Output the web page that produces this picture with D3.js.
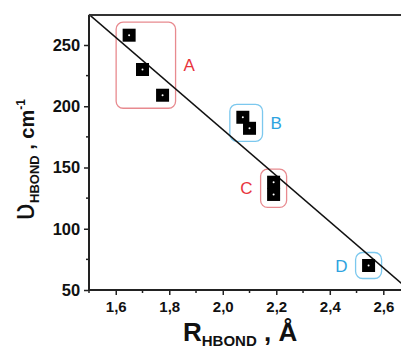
<!DOCTYPE html>
<html>
<head>
<meta charset="utf-8">
<script src="https://cdn.jsdelivr.net/npm/d3@7"></script>
<style>
  body { margin: 0; background: #fff; }
  svg { display: block; font-family: "Liberation Sans", Arial, sans-serif; }
</style>
</head>
<body>
<div id="chart"></div>
<script>
// bond length (Å) and frequency (cm-1)
const rValues = [1.65, 1.70, 1.775, 2.075, 2.10, 2.19, 2.19, 2.545];
const nuValues = [258, 230, 209, 191, 182, 138, 128, 70];
const groupOf = ['A', 'A', 'A', 'B', 'B', 'C', 'C', 'D'];

const groups = ['A', 'B', 'C', 'D'];
const groupColors = ['#e8343c', '#2ea3e0', '#e8343c', '#2ea3e0'];
const boxColors = ['#e88a8f', '#7cc8ee', '#e88a8f', '#7cc8ee'];
const labelSide = ['right', 'right', 'left', 'left'];

// fitted straight line, two ends
const fitX = [1.5, 2.67];
const fitY = [275, 55];

const xTicks = [1.6, 1.8, 2.0, 2.2, 2.4, 2.6];
const xMinor = [1.5, 1.7, 1.9, 2.1, 2.3, 2.5];
const yTicks = [50, 100, 150, 200, 250];
const yMinor = [75, 125, 175, 225];

const width = 401;
const height = 351;
const plotLeft = 89, plotTop = 15, plotBottom = 290;

const x = d3.scaleLinear().domain([1.5, 2.6]).range([plotLeft, 383.3]);
const y = d3.scaleLinear().domain([50, 250]).range([plotBottom, 45]);

const svg = d3.select('#chart')
  .append('svg')
  .attr('width', width)
  .attr('height', height);

// group boxes
const pad = 13;
groups.forEach((g, gi) => {
  const idx = d3.range(rValues.length).filter(i => groupOf[i] === g);
  const xs = idx.map(i => x(rValues[i]));
  const ys = idx.map(i => y(nuValues[i]));
  const x0 = d3.min(xs) - pad, x1 = d3.max(xs) + pad;
  const y0 = d3.min(ys) - pad, y1 = d3.max(ys) + pad;
  svg.append('rect')
    .attr('x', x0).attr('y', y0)
    .attr('width', x1 - x0).attr('height', y1 - y0)
    .attr('rx', 7)
    .attr('fill', 'none')
    .attr('stroke', boxColors[gi])
    .attr('stroke-width', 1.3);
  svg.append('text')
    .attr('x', labelSide[gi] === 'right' ? x1 + 8 : x0 - 8)
    .attr('y', (y0 + y1) / 2 + 6)
    .attr('text-anchor', labelSide[gi] === 'right' ? 'start' : 'end')
    .attr('font-size', 17)
    .attr('fill', groupColors[gi])
    .text(g);
});

// fit line
svg.append('line')
  .attr('x1', x(fitX[0])).attr('y1', y(fitY[0]))
  .attr('x2', x(fitX[1])).attr('y2', y(fitY[1]))
  .attr('stroke', '#111')
  .attr('stroke-width', 1.4);

// points
const pts = svg.selectAll('g.pt')
  .data(d3.range(rValues.length))
  .enter()
  .append('g')
  .attr('class', 'pt')
  .attr('transform', i => `translate(${x(rValues[i])},${y(nuValues[i])})`);
pts.append('rect')
  .attr('x', -6.5).attr('y', -6.5)
  .attr('width', 13).attr('height', 13)
  .attr('fill', '#000');
pts.append('circle')
  .attr('r', 1)
  .attr('fill', '#fff');

// axes
const xAxis = svg.append('g')
  .attr('transform', `translate(0,${plotBottom})`)
  .call(d3.axisBottom(x).tickValues(xTicks).tickSize(5)
    .tickFormat(d => d3.format('.1f')(d).replace('.', ',')));
xAxis.append('g').selectAll('line')
  .data(xMinor).enter().append('line')
  .attr('x1', d => x(d)).attr('x2', d => x(d))
  .attr('y1', 0).attr('y2', 3)
  .attr('stroke', '#222').attr('stroke-width', 1.5);
xAxis.select('.domain').attr('d', `M${plotLeft},0H${width}`);

const yAxis = svg.append('g')
  .attr('transform', `translate(${plotLeft},0)`)
  .call(d3.axisLeft(y).tickValues(yTicks).tickSize(5));
yAxis.append('g').selectAll('line')
  .data(yMinor).enter().append('line')
  .attr('y1', d => y(d)).attr('y2', d => y(d))
  .attr('x1', 0).attr('x2', -3)
  .attr('stroke', '#222').attr('stroke-width', 1.5);
yAxis.select('.domain').attr('d', `M0,${plotBottom}V${plotTop}`);

svg.selectAll('.domain').attr('stroke', '#222').attr('stroke-width', 2);
svg.selectAll('.tick line').attr('stroke', '#222').attr('stroke-width', 1.5);
svg.selectAll('.tick text')
  .attr('font-weight', 'bold')
  .attr('fill', '#111')
  .attr('font-family', '"Liberation Sans", Arial, sans-serif');
xAxis.selectAll('.tick text').attr('font-size', 15).attr('dy', '0.95em');
yAxis.selectAll('.tick text').attr('font-size', 16.5).attr('dx', '-0.05em');

// top frame line
svg.append('line')
  .attr('x1', plotLeft).attr('x2', width)
  .attr('y1', plotTop).attr('y2', plotTop)
  .attr('stroke', '#333').attr('stroke-width', 2);

// x title
const xt = svg.append('text')
  .attr('x', 183).attr('y', 341)
  .attr('font-weight', 'bold')
  .attr('fill', '#111');
xt.append('tspan').attr('font-size', 26).text('R');
xt.append('tspan').attr('font-size', 15).attr('dy', 5).text('HBOND');
xt.append('tspan').attr('font-size', 26).attr('dy', -5).text(' , Å');

// y title
const yt = svg.append('text')
  .attr('transform', 'translate(34,160) rotate(-90)')
  .attr('text-anchor', 'middle')
  .attr('font-weight', 'bold')
  .attr('fill', '#111');
yt.append('tspan').attr('font-size', 30).attr('font-weight', 'normal')
  .attr('font-family', '"DejaVu Sans", sans-serif').text('ʋ');
yt.append('tspan').attr('font-size', 13).attr('dy', 5).text('HBOND');
yt.append('tspan').attr('font-size', 20).attr('dy', -5).text(' , cm');
yt.append('tspan').attr('font-size', 12).attr('dy', -9).text('-1');
</script>
</body>
</html>
